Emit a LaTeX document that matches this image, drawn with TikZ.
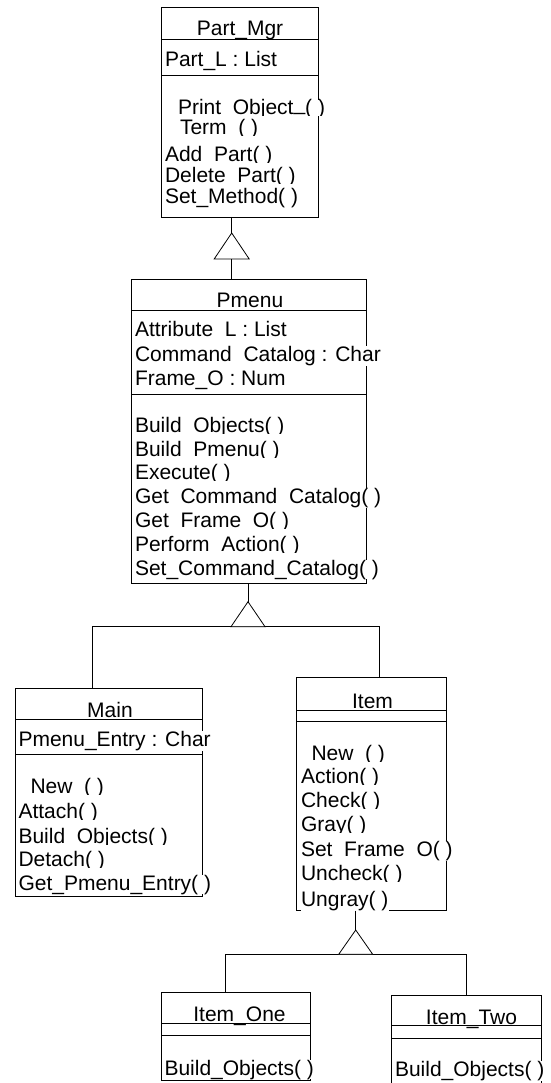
\documentclass[tikz,border=0pt]{standalone}
\usepackage{fontspec}
\setmainfont{Liberation Sans}
\tikzset{
  box/.style={draw, line width=0.8pt, inner sep=0pt, outer sep=0pt, anchor=north west},
  sepline/.style={line width=0.8pt},
  conn/.style={draw, line width=0.8pt},
  txt/.style={font=\fontsize{21}{24}\selectfont, inner sep=0pt, outer sep=0pt, anchor=base west, fill=white},
  ttl/.style={font=\fontsize{21}{24}\selectfont, inner sep=0pt, outer sep=0pt, anchor=base},
}
% name, left, top, right, bottom, sep1, sep2
\newcommand\umlbox[7]{%
  \node[box, minimum width={(#4-#2)*1pt}, minimum height={(#5-#3)*1pt}] (#1) at (#2,#3) {};
  \draw[sepline] (#2,#6) -- (#4,#6);
  \draw[sepline] (#2,#7) -- (#4,#7);
}
% name, x, baseline y, text, clip depth below baseline
\newcommand\mline[5]{%
  \begin{scope}
    \clip (#2-3,#3-22) rectangle (#2+270,#3+#5);
    \node[txt] (#1) at (#2,#3) {#4};
  \end{scope}
}
\begin{document}
\begin{tikzpicture}[x=1pt, y=-1pt]
\useasboundingbox (0,0) rectangle (550,1083);
\fill[white] (0,0) rectangle (550,1083);

% ---------------- Part_Mgr ----------------
\umlbox{pm}{161.7}{7}{318}{217}{39.5}{75}
\node[ttl] (pmt) at (240,36) {Part\_Mgr};
\mline{pm1}{165}{67}{Part\_L : List}{6}
\mline{pm2}{178}{115}{Print\ \ Object\raisebox{4pt}{\_}( )}{1}
\mline{pm3}{180}{135}{Term\ \ ( )}{1}
\mline{pm4}{165}{161.7}{Add\ \ Part( )}{1}
\mline{pm5}{165}{183}{Delete\ \ Part( )}{1}
\mline{pm6}{165}{204}{Set\_Method( )}{6}

% ---------------- Pmenu ----------------
\umlbox{pmenu}{131.7}{279}{366.7}{583}{310.7}{394.3}
\node[ttl] (pmenut) at (250,307) {Pmenu};
\mline{pa1}{135}{336.7}{Attribute\ \ L : List}{1}
\mline{pa2}{135}{361.7}{Command\ \ Catalog : Char}{6}
\mline{pa3}{135}{385}{Frame\_O : Num}{6}
\mline{po1}{135}{432.7}{Build\ \ Objects( )}{1}
\mline{po2}{135}{456}{Build\ \ Pmenu( )}{1}
\mline{po3}{135}{479.3}{Execute( )}{1}
\mline{po4}{135}{503.3}{Get\ \ Command\ \ Catalog( )}{6}
\mline{po5}{135}{527.3}{Get\ \ Frame\ \ O( )}{1}
\mline{po6}{135}{551.7}{Perform\ \ Action( )}{1}
\mline{po7}{135}{575}{Set\_Command\_Catalog( )}{6}

% ---------------- Main ----------------
\umlbox{main}{15}{688.3}{202.3}{896}{719.3}{754}
\node[ttl] (maint) at (110,717) {Main};
\mline{ma1}{18.5}{746.7}{Pmenu\_Entry : Char}{6}
\mline{mo1}{30.5}{793}{New\ \ ( )}{1}
\mline{mo2}{18.5}{818}{Attach( )}{1}
\mline{mo3}{18.5}{843}{Build\ \ Objects( )}{1}
\mline{mo4}{18.5}{866}{Detach( )}{1}
\mline{mo5}{18.5}{890}{Get\_Pmenu\_Entry( )}{5}

% ---------------- Item ----------------
\umlbox{item}{296}{677.7}{446}{910.7}{710}{721.7}
\node[ttl] (itemt) at (372.5,708) {Item};
\mline{io1}{311.5}{760}{New\ \ ( )}{1}
\mline{io2}{301}{783.3}{Action( )}{1}
\mline{io3}{301}{807.7}{Check( )}{1}
\mline{io4}{301}{831.7}{Gray( )}{1}
\mline{io5}{301}{856.7}{Set\ \ Frame\ \ O( )}{6}
\mline{io6}{301}{880}{Uncheck( )}{1}
\mline{io7}{301}{906.7}{Ungray( )}{3.4}

% ---------------- Item_One ----------------
\umlbox{ione}{161}{992.3}{310.7}{1080.7}{1023.3}{1035.7}
\node[ttl] (ionet) at (239.5,1021.7) {Item\_One};
\mline{i1o1}{164.5}{1075}{Build\_Objects( )}{5}

% ---------------- Item_Two ----------------
\umlbox{itwo}{391}{995}{541}{1092}{1025.7}{1038.3}
\node[ttl] (itwot) at (471.5,1024) {Item\_Two};
\mline{i2o1}{395}{1076.7}{Build\_Objects( )}{6}

% ---------------- Generalisations ----------------
% Part_Mgr <- Pmenu
\coordinate (a1) at (231.7,233);
\coordinate (b1) at (231.7,259);
\draw[conn] (a1 |- pm.south) -- (a1);
\draw[conn, fill=white] (a1) -- ([xshift=-17.5pt]b1) -- ([xshift=17.5pt]b1) -- cycle;
\draw[conn] (b1) -- (b1 |- pmenu.north);

% Pmenu <- Main, Item
\coordinate (a2) at (248,601.7);
\coordinate (b2) at (248,626.7);
\coordinate (j1) at (92.3,626.7);
\coordinate (j2) at (379.3,626.7);
\draw[conn] (a2 |- pmenu.south) -- (a2);
\draw[conn] (j1 |- main.north) -- (j1) -- (j2) -- (j2 |- item.north);
\draw[conn, fill=white] (a2) -- ([xshift=-17pt]b2) -- ([xshift=17pt]b2) -- cycle;

% Item <- Item_One, Item_Two
\coordinate (a3) at (355.7,930);
\coordinate (b3) at (355.7,954.3);
\coordinate (j3) at (225.7,954.3);
\coordinate (j4) at (466.7,954.3);
\draw[conn] (a3 |- item.south) -- (a3);
\draw[conn] (j3 |- ione.north) -- (j3) -- (j4) -- (j4 |- itwo.north);
\draw[conn, fill=white] (a3) -- ([xshift=-17pt]b3) -- ([xshift=17pt]b3) -- cycle;
\end{tikzpicture}
\end{document}
